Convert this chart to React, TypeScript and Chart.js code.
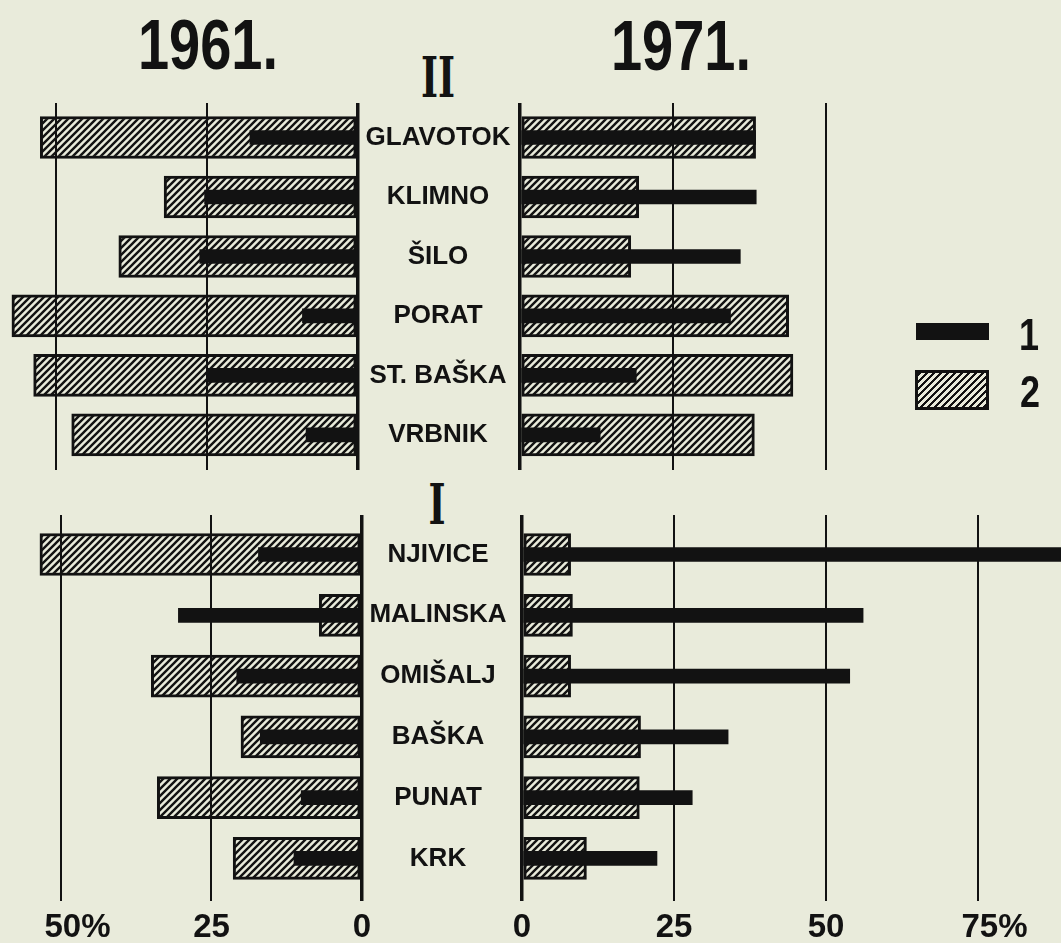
import React, { useEffect, useRef } from "react";
import { Chart, registerables } from "chart.js";

Chart.register(...registerables);

// ---------- data ----------
const YEARS = ["1961.", "1971."];
const GROUP_NAMES = ["II", "I"];
const SERIES_NAMES = ["1", "2"];

const GROUP_II_PLACES = ["GLAVOTOK", "KLIMNO", "ŠILO", "PORAT", "ST. BAŠKA", "VRBNIK"];
const GROUP_I_PLACES = ["NJIVICE", "MALINSKA", "OMIŠALJ", "BAŠKA", "PUNAT", "KRK"];

// 1961 (left panel)
const S1_1961_II = [17.9, 25.4, 26.2, 9.2, 24.9, 8.6];
const S2_1961_II = [52.6, 32.1, 39.6, 57.3, 53.7, 47.4];
const S1_1961_I = [17.2, 30.5, 20.8, 16.9, 10.1, 11.3];
const S2_1961_I = [53.5, 7.1, 35.0, 20.1, 34.0, 21.4];

// 1971 (right panel)
const S1_1971_II = [38.5, 38.6, 36.0, 34.4, 19.0, 13.1];
const S2_1971_II = [38.5, 19.4, 18.1, 43.9, 44.6, 38.3];
const S1_1971_I = [95.0, 56.1, 53.9, 33.9, 28.0, 22.2];
const S2_1971_I = [8.0, 8.3, 8.0, 19.5, 19.3, 10.6];

const LEFT_TICKS = [0, 25, 50];
const LEFT_TICK_LABELS = ["0", "25", "\u200350%"];
const RIGHT_TOP_TICKS = [0, 25, 50];
const RIGHT_TICKS = [0, 25, 50, 75];
const RIGHT_TICK_LABELS = ["0", "25", "50", "\u200375%"];

// ---------- style ----------
const PAPER = "#e9ebdb";
const INK = "#121212";
const SANS = "'Liberation Sans', Arial, sans-serif";
const LABEL_SIZE = 26;
const LABEL_CENTER_X = 438;

function makeHatch(): CanvasPattern | string {
  const s = 7;
  const c = document.createElement("canvas");
  c.width = s;
  c.height = s;
  const g = c.getContext("2d");
  if (!g) return PAPER;
  g.fillStyle = PAPER;
  g.fillRect(0, 0, s, s);
  g.strokeStyle = INK;
  g.lineWidth = 2.4;
  g.beginPath();
  g.moveTo(0, s);
  g.lineTo(s, 0);
  g.moveTo(-s / 2, s / 2);
  g.lineTo(s / 2, -s / 2);
  g.moveTo(s / 2, s * 1.5);
  g.lineTo(s * 1.5, s / 2);
  g.stroke();
  return g.createPattern(c, "repeat") || PAPER;
}

type PanelProps = {
  places: string[];
  s1: number[];
  s2: number[];
  side: "left" | "right";
  ticks: number[];
  tickLabels: string[] | null;
  xMax: number;
  yMin: number;
  yMax: number;
  left: number;
  top: number;
  width: number;
  height: number;
  padLeft: number;
  axisWidth: number;
  xAxisHeight: number;
};

function zeroPad(s: any) {
  s.paddingTop = 0;
  s.paddingBottom = 0;
  s.paddingLeft = 0;
  s.paddingRight = 0;
}

function Panel(p: PanelProps) {
  const ref = useRef<HTMLCanvasElement>(null);
  useEffect(() => {
    const canvas = ref.current;
    if (!canvas) return;
    const hatch = makeHatch();
    const isLeft = p.side === "left";
    let pad = 0;
    if (isLeft) {
      const m = document.createElement("canvas").getContext("2d");
      if (m) {
        m.font = `bold ${LABEL_SIZE}px ${SANS}`;
        const widest = Math.max(...p.places.map((t) => m.measureText(t).width));
        pad = LABEL_CENTER_X - (p.left + p.width - p.axisWidth) - widest / 2;
      }
    }
    const chart = new Chart(canvas, {
      type: "bar",
      data: {
        datasets: [
          {
            label: SERIES_NAMES[0],
            data: p.s1.map((v, i) => ({ x: v, y: i })),
            backgroundColor: INK,
            borderWidth: 0,
            barThickness: 14,
            grouped: false,
          } as any,
          {
            label: SERIES_NAMES[1],
            data: p.s2.map((v, i) => ({ x: v, y: i })),
            backgroundColor: hatch,
            borderColor: INK,
            borderWidth: 3,
            borderSkipped: false,
            barThickness: 42,
            grouped: false,
          } as any,
        ],
      },
      options: {
        indexAxis: "y",
        responsive: false,
        animation: false,
        events: [],
        layout: { padding: { left: p.padLeft, right: 0, top: 0, bottom: 0 }, autoPadding: false },
        plugins: { legend: { display: false }, tooltip: { enabled: false } },
        scales: {
          x: {
            type: "linear",
            reverse: isLeft,
            min: 0,
            max: p.xMax,
            position: "bottom",
            offset: false,
            afterBuildTicks: (s: any) => {
              s.ticks = p.ticks.map((v) => ({ value: v }));
            },
            afterFit: (s: any) => {
              s.height = p.xAxisHeight;
              zeroPad(s);
            },
            grid: {
              display: true,
              z: 1,
              color: INK,
              lineWidth: (c: any) => (c.tick && c.tick.value === 0 ? 3.5 : 2),
              drawTicks: false,
            },
            border: { display: false },
            ticks: {
              display: !!p.tickLabels,
              autoSkip: false,
              maxRotation: 0,
              padding: 7,
              color: INK,
              font: { family: SANS, size: 33, weight: "bold" },
              callback: (_v: any, i: number) => (p.tickLabels ? p.tickLabels[i] : ""),
            },
          } as any,
          y: {
            type: "linear",
            reverse: true,
            min: p.yMin,
            max: p.yMax,
            offset: false,
            display: isLeft,
            position: isLeft ? "right" : "left",
            afterBuildTicks: (s: any) => {
              s.ticks = p.places.map((_, i) => ({ value: i }));
            },
            afterFit: (s: any) => {
              s.width = p.axisWidth;
              zeroPad(s);
            },
            grid: { display: false, drawTicks: false },
            border: { display: false },
            ticks: {
              autoSkip: false,
              crossAlign: "center",
              padding: pad,
              color: INK,
              font: { family: SANS, size: LABEL_SIZE, weight: "bold" },
              callback: (_v: any, i: number) => p.places[i],
            },
          } as any,
        },
      },
    });
    return () => chart.destroy();
  }, []);
  return (
    <canvas
      ref={ref}
      width={p.width}
      height={p.height}
      style={{ position: "absolute", left: p.left, top: p.top, width: p.width, height: p.height }}
    />
  );
}

function Label(props: { x: number; y: number; text: string; size: number; family: string; scaleX?: number }) {
  return (
    <div
      style={{
        position: "absolute",
        left: props.x,
        top: props.y,
        transform: `translate(-50%, -50%) scaleX(${props.scaleX ?? 1})`,
        fontFamily: props.family,
        fontWeight: "bold",
        fontSize: props.size,
        lineHeight: 1,
        color: INK,
        whiteSpace: "nowrap",
      }}
    >
      {props.text}
    </div>
  );
}

export default function App() {
  return (
    <div
      style={{
        position: "absolute",
        left: 0,
        top: 0,
        width: 1061,
        height: 943,
        background: PAPER,
        overflow: "hidden",
      }}
    >
      <Label x={208} y={45} text={YEARS[0]} size={70} family={SANS} scaleX={0.8} />
      <Label x={681} y={46} text={YEARS[1]} size={70} family={SANS} scaleX={0.8} />
      <Label x={438} y={77} text={GROUP_NAMES[0]} size={56} family="'DejaVu Serif', serif" scaleX={0.65} />
      <Label x={437} y={504} text={GROUP_NAMES[1]} size={56} family="'DejaVu Serif', serif" scaleX={0.65} />

      <Panel
        places={GROUP_II_PLACES}
        s1={S1_1961_II}
        s2={S2_1961_II}
        side="left"
        ticks={LEFT_TICKS}
        tickLabels={null}
        xMax={59.27}
        yMin={-0.58}
        yMax={5.59}
        left={0}
        top={103}
        width={520}
        height={367}
        padLeft={0}
        axisWidth={162}
        xAxisHeight={0}
      />
      <Panel
        places={GROUP_II_PLACES}
        s1={S1_1971_II}
        s2={S2_1971_II}
        side="right"
        ticks={RIGHT_TOP_TICKS}
        tickLabels={null}
        xMax={88.4}
        yMin={-0.58}
        yMax={5.59}
        left={510}
        top={103}
        width={551}
        height={367}
        padLeft={10}
        axisWidth={0}
        xAxisHeight={0}
      />
      <Panel
        places={GROUP_I_PLACES}
        s1={S1_1961_I}
        s2={S2_1961_I}
        side="left"
        ticks={LEFT_TICKS}
        tickLabels={LEFT_TICK_LABELS}
        xMax={60.13}
        yMin={-0.65}
        yMax={5.7}
        left={0}
        top={515}
        width={520}
        height={428}
        padLeft={0}
        axisWidth={158}
        xAxisHeight={42}
      />
      <Panel
        places={GROUP_I_PLACES}
        s1={S1_1971_I}
        s2={S2_1971_I}
        side="right"
        ticks={RIGHT_TICKS}
        tickLabels={RIGHT_TICK_LABELS}
        xMax={88.65}
        yMin={-0.65}
        yMax={5.7}
        left={512}
        top={515}
        width={549}
        height={428}
        padLeft={10}
        axisWidth={0}
        xAxisHeight={42}
      />

      {/* legend */}
      <div style={{ position: "absolute", left: 916, top: 323, width: 73, height: 17, background: INK }} />
      <Label x={1029} y={334} text={SERIES_NAMES[0]} size={45} family={SANS} scaleX={0.8} />
      <div
        style={{
          position: "absolute",
          left: 915,
          top: 370,
          width: 74,
          height: 40,
          boxSizing: "border-box",
          border: `3px solid ${INK}`,
          background: `repeating-linear-gradient(135deg, ${INK} 0px, ${INK} 2.4px, ${PAPER} 2.4px, ${PAPER} 4.95px)`,
        }}
      />
      <Label x={1030} y={391} text={SERIES_NAMES[1]} size={45} family={SANS} scaleX={0.8} />
    </div>
  );
}
